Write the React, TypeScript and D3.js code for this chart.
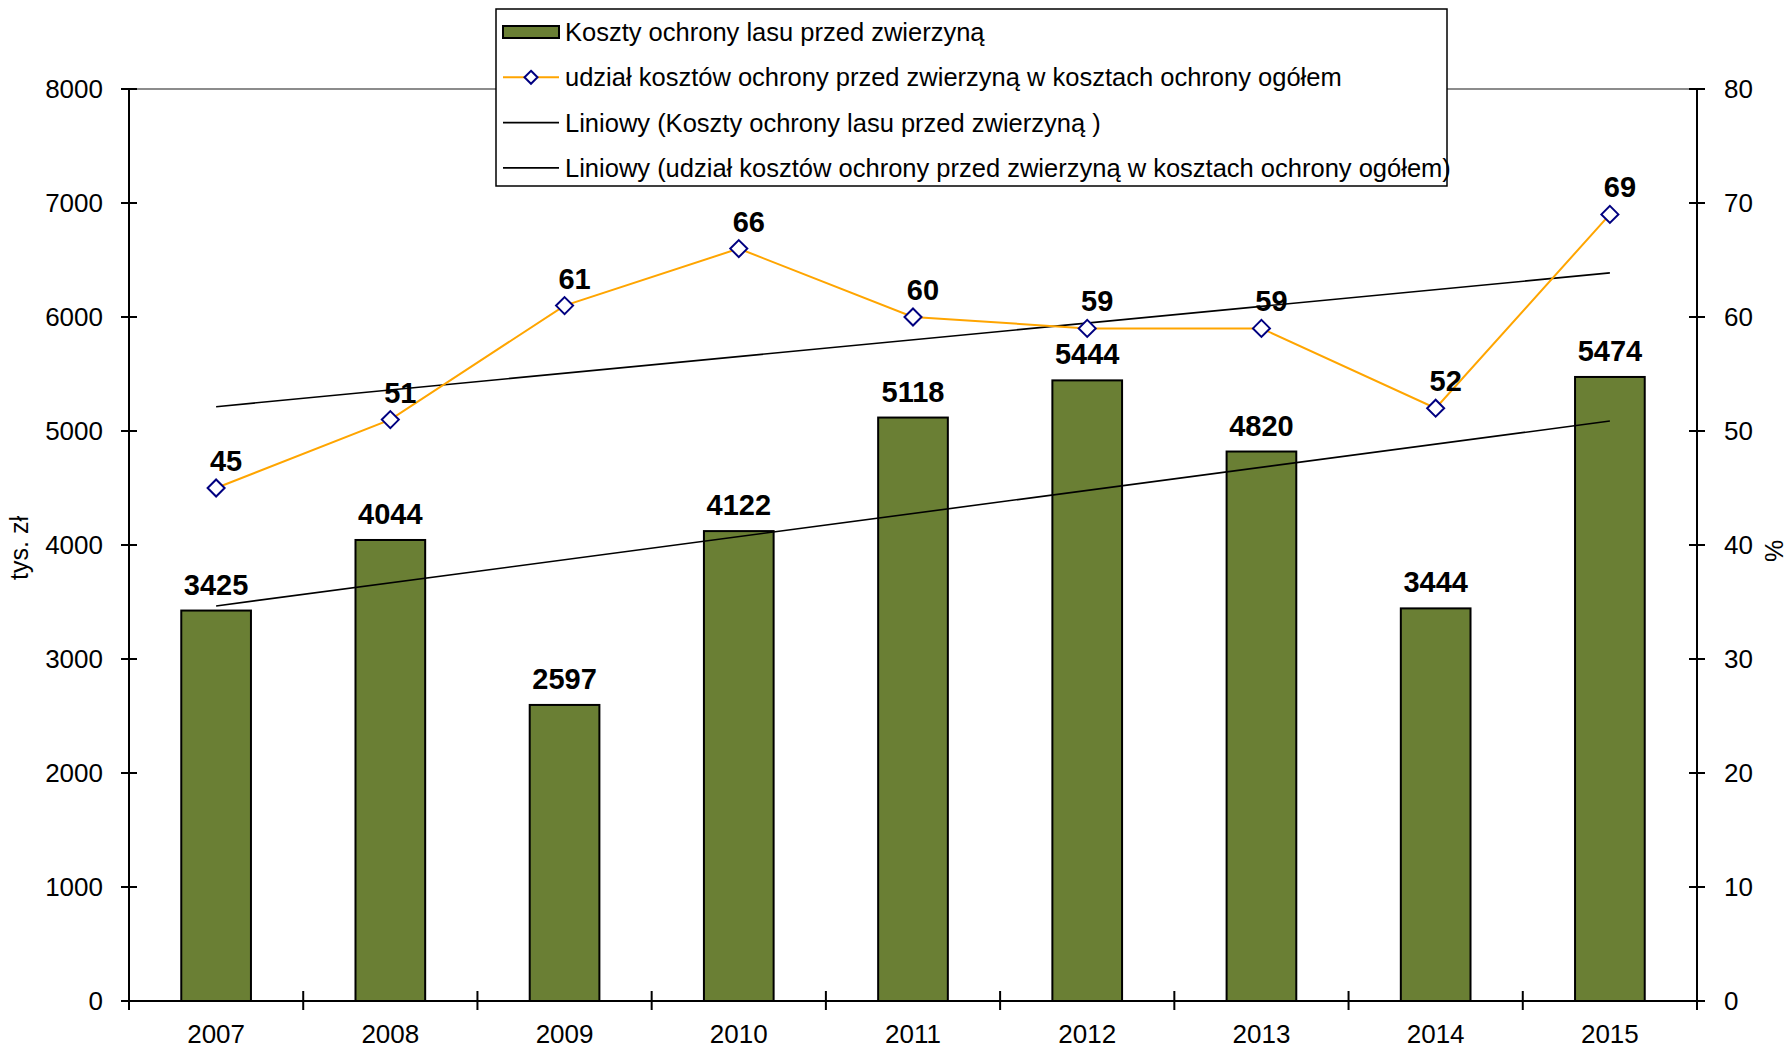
import React from 'react'
import * as d3 from 'd3'

// data
const years = ['2007', '2008', '2009', '2010', '2011', '2012', '2013', '2014', '2015']
const costs = [3425, 4044, 2597, 4122, 5118, 5444, 4820, 3444, 5474]
const sharePct = [45, 51, 61, 66, 60, 59, 59, 52, 69]
const leftTicks = [0, 1000, 2000, 3000, 4000, 5000, 6000, 7000, 8000]
const rightTicks = [0, 10, 20, 30, 40, 50, 60, 70, 80]
const legendLabels = [
  'Koszty ochrony lasu przed zwierzyną',
  'udział kosztów ochrony przed zwierzyną w kosztach ochrony ogółem',
  'Liniowy (Koszty ochrony lasu przed zwierzyną )',
  'Liniowy (udział kosztów ochrony przed zwierzyną w kosztach ochrony ogółem)',
]

const W = 1789
const H = 1049
const FONT = '"Liberation Sans", Arial, sans-serif'
const GREEN = '#6A7F34'
const ORANGE = '#FFA500'
const NAVY = '#000080'

// linear trend like Excel's "Liniowy" trendline
const linearFit = (vals: number[]) => {
  const xs = vals.map((_, i) => i + 1)
  const mx = d3.mean(xs) as number
  const my = d3.mean(vals) as number
  const sxy = d3.sum(xs, (x, i) => (x - mx) * (vals[i] - my))
  const sxx = d3.sum(xs, x => (x - mx) * (x - mx))
  const slope = sxy / sxx
  return (x: number) => my + slope * (x - mx)
}

const App = () => {
  const left = 129, right = 1697, top = 89, bottom = 1001

  const x = d3.scaleBand().domain(years).range([left, right]).padding(0)
  const bw = x.bandwidth()
  const cx = (yr: string) => (x(yr) as number) + bw / 2
  const yL = d3.scaleLinear().domain([0, 8000]).range([bottom, top])
  const yR = d3.scaleLinear().domain([0, 80]).range([bottom, top])

  const barW = bw * 0.4
  const trendCost = linearFit(costs)
  const trendPct = linearFit(sharePct)
  const lineGen = d3.line<number>().x((_, i) => cx(years[i])).y(d => yR(d))

  const diamond = (px: number, py: number, r = 8.5) =>
    `M${px},${py - r}L${px + r},${py}L${px},${py + r}L${px - r},${py}Z`

  const bounds = d3.range(years.length + 1).map(i => left + i * bw)

  const legX = 496, legY = 9, legW = 951, legH = 177
  const rowY = (i: number) => 32 + i * 45.3

  return (
    <svg width={W} height={H} style={{ position: 'absolute', left: 0, top: 0 }} fontFamily={FONT}>
      <rect width={W} height={H} fill="#fff" />

      {/* plot area top border */}
      <line x1={left} x2={right} y1={top} y2={top} stroke="#8c8c8c" strokeWidth={2} />

      {/* bars */}
      {costs.map((v, i) => (
        <rect key={years[i]} x={cx(years[i]) - barW / 2} y={yL(v)} width={barW} height={bottom - yL(v)}
          fill={GREEN} stroke="#000" strokeWidth={2} />
      ))}

      {/* trendlines */}
      <line x1={cx(years[0])} x2={cx(years[years.length - 1])} y1={yL(trendCost(1))} y2={yL(trendCost(years.length))}
        stroke="#000" strokeWidth={1.6} />
      <line x1={cx(years[0])} x2={cx(years[years.length - 1])} y1={yR(trendPct(1))} y2={yR(trendPct(years.length))}
        stroke="#000" strokeWidth={1.6} />

      {/* share line */}
      <path d={lineGen(sharePct) as string} fill="none" stroke={ORANGE} strokeWidth={2} />
      {sharePct.map((v, i) => (
        <path key={i} d={diamond(cx(years[i]), yR(v))} fill="#fff" stroke={NAVY} strokeWidth={2} />
      ))}

      {/* data labels */}
      {costs.map((v, i) => (
        <text key={'c' + i} x={cx(years[i])} y={yL(v) - 16} textAnchor="middle" fontSize={29} fontWeight="bold">{v}</text>
      ))}
      {sharePct.map((v, i) => (
        <text key={'p' + i} x={cx(years[i]) + 10} y={yR(v) - 17} textAnchor="middle" fontSize={29} fontWeight="bold">{v}</text>
      ))}

      {/* axes */}
      <line x1={left} x2={left} y1={top} y2={bottom} stroke="#000" strokeWidth={2} />
      <line x1={right} x2={right} y1={top} y2={bottom} stroke="#000" strokeWidth={2} />
      <line x1={left - 8} x2={right + 8} y1={bottom} y2={bottom} stroke="#000" strokeWidth={2} />
      {leftTicks.map(t => (
        <g key={'l' + t}>
          <line x1={left - 8} x2={left + 8} y1={yL(t)} y2={yL(t)} stroke="#000" strokeWidth={2} />
          <text x={103} y={yL(t)} dy="0.35em" textAnchor="end" fontSize={26}>{t}</text>
        </g>
      ))}
      {rightTicks.map(t => (
        <g key={'r' + t}>
          <line x1={right - 8} x2={right + 8} y1={yR(t)} y2={yR(t)} stroke="#000" strokeWidth={2} />
          <text x={1724} y={yR(t)} dy="0.35em" textAnchor="start" fontSize={26}>{t}</text>
        </g>
      ))}
      {bounds.map((b, i) => (
        <line key={'b' + i} x1={b} x2={b} y1={bottom - 10} y2={bottom + 9} stroke="#000" strokeWidth={2} />
      ))}
      {years.map(yr => (
        <text key={yr} x={cx(yr)} y={1043} textAnchor="middle" fontSize={26}>{yr}</text>
      ))}

      {/* axis titles */}
      <text transform={`translate(28,${548}) rotate(-90)`} textAnchor="middle" fontSize={25}>tys. zł</text>
      <text transform={`translate(1783,${551}) rotate(-90)`} textAnchor="middle" fontSize={25}>%</text>

      {/* legend */}
      <rect x={legX} y={legY} width={legW} height={legH} fill="#fff" stroke="#000" strokeWidth={1.5} />
      <rect x={503} y={rowY(0) - 6} width={56} height={12} fill={GREEN} stroke="#000" strokeWidth={2} />
      <line x1={503} x2={559} y1={rowY(1)} y2={rowY(1)} stroke={ORANGE} strokeWidth={2} />
      <path d={diamond(531, rowY(1), 6.5)} fill="#fff" stroke={NAVY} strokeWidth={2} />
      <line x1={503} x2={559} y1={rowY(2)} y2={rowY(2)} stroke="#000" strokeWidth={1.6} />
      <line x1={503} x2={559} y1={rowY(3)} y2={rowY(3)} stroke="#000" strokeWidth={1.6} />
      {legendLabels.map((l, i) => (
        <text key={l} x={565} y={rowY(i)} dy="0.35em" fontSize={25.5}>{l}</text>
      ))}
    </svg>
  )
}

export default App
